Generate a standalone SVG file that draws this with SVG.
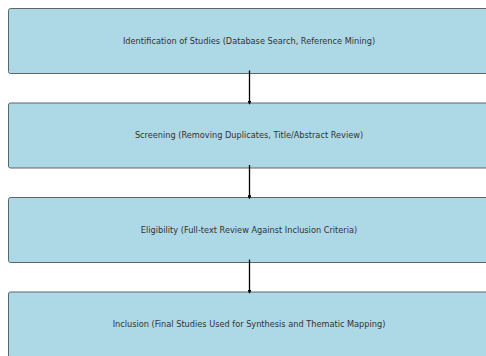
<svg xmlns="http://www.w3.org/2000/svg" width="486" height="356" viewBox="0 0 486 356">
<defs>
<style>
.box{fill:#add8e6;stroke:#5f6468;stroke-width:1}
.lbl{font-family:"DejaVu Sans",sans-serif;font-size:8.2px;fill:#333;text-anchor:middle;dominant-baseline:central}
.edge{stroke:#000;stroke-width:1.3;fill:none}
</style>
<marker id="ah" viewBox="0 0 6 6" refX="5" refY="3" markerWidth="3" markerHeight="3" orient="auto" markerUnits="strokeWidth">
<path d="M0,0 L6,3 L0,6 z" fill="#000"/>
</marker>
</defs>
<rect width="486" height="356" fill="#fff"/>
<g id="n1"><rect class="box" x="8.5" y="8.5" width="482" height="65" rx="2"/><text class="lbl" x="249" y="40.5">Identification of Studies (Database Search, Reference Mining)</text></g>
<g id="n2"><rect class="box" x="8.5" y="103" width="482" height="65" rx="2"/><text class="lbl" x="249" y="135">Screening (Removing Duplicates, Title/Abstract Review)</text></g>
<g id="n3"><rect class="box" x="8.5" y="197.5" width="482" height="65" rx="2"/><text class="lbl" x="249" y="229.5">Eligibility (Full-text Review Against Inclusion Criteria)</text></g>
<g id="n4"><rect class="box" x="8.5" y="292" width="482" height="65" rx="2"/><text class="lbl" x="249" y="324">Inclusion (Final Studies Used for Synthesis and Thematic Mapping)</text></g>
<g id="edges">
<line class="edge" x1="249.5" y1="70.5" x2="249.5" y2="104" marker-end="url(#ah)"/>
<line class="edge" x1="249.5" y1="165" x2="249.5" y2="198.5" marker-end="url(#ah)"/>
<line class="edge" x1="249.5" y1="259.5" x2="249.5" y2="293" marker-end="url(#ah)"/>
</g>
</svg>
